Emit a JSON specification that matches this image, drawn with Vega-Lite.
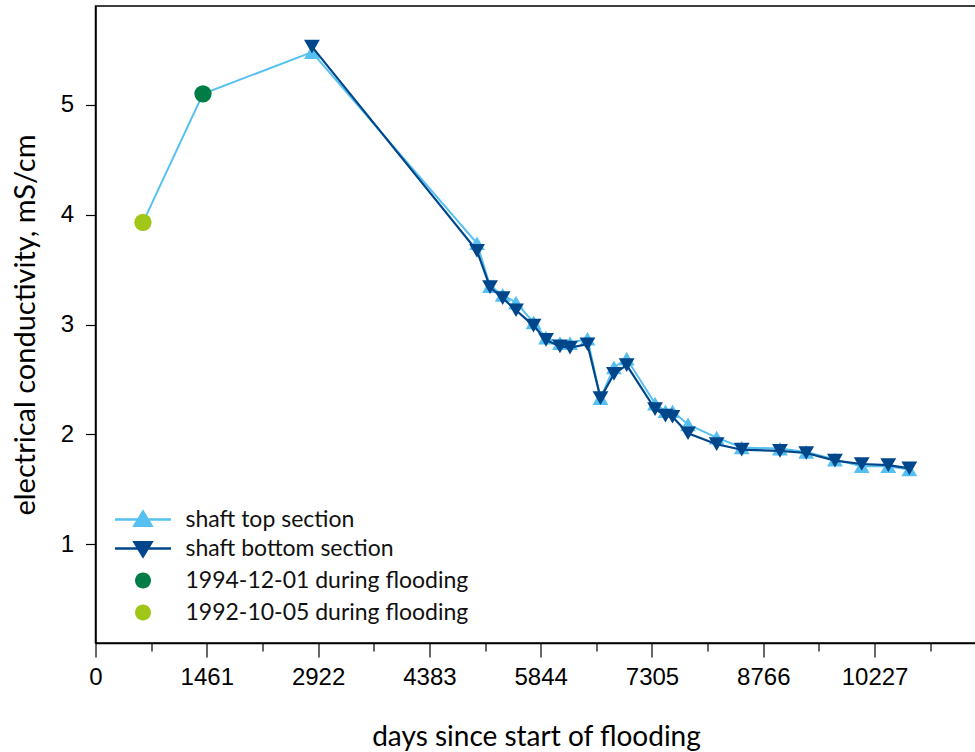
{
  "$schema": "https://vega.github.io/schema/vega-lite/v6.json",
  "width": 881,
  "height": 637,
  "autosize": {"type": "none"},
  "padding": {"left": 95.5, "top": 6, "right": 0, "bottom": 109},
  "background": "white",
  "config": {
    "view": {"stroke": "#000", "strokeWidth": 1.5},
    "axis": {"labelFont": "Liberation Sans", "titleFont": "Lato", "titleFontWeight": "normal", "labelColor": "#000", "titleColor": "#000", "domainColor": "#000", "tickColor": "#000", "domainWidth": 1.5, "tickWidth": 1.2, "grid": false},
    "legend": {"labelFont": "Lato", "labelColor": "#111"}
  },
  "data": {"values": [
    {"day": 623, "ec": 3.93, "series": "1992-10-05 during flooding"},
    {"day": 1411, "ec": 5.10, "series": "1994-12-01 during flooding"},
    {"day": 2841, "ec": 5.48, "series": "shaft top section"},
    {"day": 5008, "ec": 3.74, "series": "shaft top section"},
    {"day": 5179, "ec": 3.35, "series": "shaft top section"},
    {"day": 5345, "ec": 3.27, "series": "shaft top section"},
    {"day": 5520, "ec": 3.20, "series": "shaft top section"},
    {"day": 5750, "ec": 3.02, "series": "shaft top section"},
    {"day": 5914, "ec": 2.88, "series": "shaft top section"},
    {"day": 6097, "ec": 2.83, "series": "shaft top section"},
    {"day": 6229, "ec": 2.83, "series": "shaft top section"},
    {"day": 6458, "ec": 2.87, "series": "shaft top section"},
    {"day": 6629, "ec": 2.33, "series": "shaft top section"},
    {"day": 6806, "ec": 2.61, "series": "shaft top section"},
    {"day": 6973, "ec": 2.69, "series": "shaft top section"},
    {"day": 7345, "ec": 2.28, "series": "shaft top section"},
    {"day": 7482, "ec": 2.21, "series": "shaft top section"},
    {"day": 7574, "ec": 2.21, "series": "shaft top section"},
    {"day": 7778, "ec": 2.09, "series": "shaft top section"},
    {"day": 8154, "ec": 1.97, "series": "shaft top section"},
    {"day": 8483, "ec": 1.88, "series": "shaft top section"},
    {"day": 8985, "ec": 1.87, "series": "shaft top section"},
    {"day": 9330, "ec": 1.84, "series": "shaft top section"},
    {"day": 9707, "ec": 1.77, "series": "shaft top section"},
    {"day": 10058, "ec": 1.71, "series": "shaft top section"},
    {"day": 10407, "ec": 1.71, "series": "shaft top section"},
    {"day": 10683, "ec": 1.68, "series": "shaft top section"},
    {"day": 2841, "ec": 5.53, "series": "shaft bottom section"},
    {"day": 5008, "ec": 3.67, "series": "shaft bottom section"},
    {"day": 5179, "ec": 3.34, "series": "shaft bottom section"},
    {"day": 5345, "ec": 3.24, "series": "shaft bottom section"},
    {"day": 5520, "ec": 3.13, "series": "shaft bottom section"},
    {"day": 5750, "ec": 2.99, "series": "shaft bottom section"},
    {"day": 5914, "ec": 2.86, "series": "shaft bottom section"},
    {"day": 6097, "ec": 2.80, "series": "shaft bottom section"},
    {"day": 6229, "ec": 2.79, "series": "shaft bottom section"},
    {"day": 6458, "ec": 2.82, "series": "shaft bottom section"},
    {"day": 6629, "ec": 2.33, "series": "shaft bottom section"},
    {"day": 6806, "ec": 2.55, "series": "shaft bottom section"},
    {"day": 6973, "ec": 2.63, "series": "shaft bottom section"},
    {"day": 7345, "ec": 2.23, "series": "shaft bottom section"},
    {"day": 7482, "ec": 2.17, "series": "shaft bottom section"},
    {"day": 7574, "ec": 2.16, "series": "shaft bottom section"},
    {"day": 7778, "ec": 2.01, "series": "shaft bottom section"},
    {"day": 8154, "ec": 1.91, "series": "shaft bottom section"},
    {"day": 8483, "ec": 1.86, "series": "shaft bottom section"},
    {"day": 8985, "ec": 1.85, "series": "shaft bottom section"},
    {"day": 9330, "ec": 1.83, "series": "shaft bottom section"},
    {"day": 9707, "ec": 1.76, "series": "shaft bottom section"},
    {"day": 10058, "ec": 1.73, "series": "shaft bottom section"},
    {"day": 10407, "ec": 1.72, "series": "shaft bottom section"},
    {"day": 10683, "ec": 1.69, "series": "shaft bottom section"}
  ]},
  "layer": [
    {
      "transform": [{"filter": "datum.series != 'shaft bottom section'"}],
      "mark": {"type": "line", "color": "#56C1F0", "strokeWidth": 2},
      "encoding": {
        "x": {"field": "day", "type": "quantitative", "scale": {"domain": [0, 11565], "nice": false, "zero": false},
          "axis": {"values": [0, 365.25, 730.5, 1095.75, 1461, 1826.25, 2191.5, 2556.75, 2922, 3287.25, 3652.5, 4017.75, 4383, 4748.25, 5113.5, 5478.75, 5844, 6209.25, 6574.5, 6939.75, 7305, 7670.25, 8035.5, 8400.75, 8766, 9131.25, 9496.5, 9861.75, 10227, 10592.25, 10957.5, 11322.75],
            "labelExpr": "datum.value % 1461 === 0 ? format(datum.value, 'd') : ''",
            "tickSize": {"condition": {"test": "datum.value % 1461 === 0", "value": 14}, "value": 8},
            "labelOverlap": false, "labelFontSize": 24, "labelPadding": 8, "title": "days since start of flooding", "titleFontSize": 28, "titlePadding": 34, "labelFlush": false}},
        "y": {"field": "ec", "type": "quantitative", "scale": {"domain": [0.1, 5.9], "nice": false, "zero": false},
          "axis": {"values": [1, 2, 3, 4, 5], "format": "d", "tickSize": 10, "labelFontSize": 24, "labelPadding": 12, "title": "electrical conductivity, mS/cm", "titleFontSize": 29, "titlePadding": 20}}
      }
    },
    {
      "transform": [{"filter": "datum.series == 'shaft top section'"}],
      "mark": {"type": "point", "shape": "triangle-up", "filled": true, "opacity": 1, "size": 250},
      "encoding": {
        "x": {"field": "day", "type": "quantitative"},
        "y": {"field": "ec", "type": "quantitative"},
        "color": {"field": "series", "type": "nominal",
          "scale": {"domain": ["shaft top section", "shaft bottom section", "1994-12-01 during flooding", "1992-10-05 during flooding"], "range": ["#56C1F0", "#00468B", "#007D47", "#A2C617"]},
          "legend": {"title": null, "orient": "none", "legendX": 36, "legendY": 502, "labelFontSize": 23, "labelLimit": 500, "symbolSize": 400, "symbolStrokeWidth": 2.5, "symbolOpacity": 1, "labelOffset": 31, "rowPadding": 5, "padding": 0,
            "symbolType": {"expr": "datum.value === 'shaft top section' ? 'M-2.8,0H2.8M-0.85,0.62L0,-0.78L0.85,0.62Z' : datum.value === 'shaft bottom section' ? 'M-2.8,0H2.8M-0.85,-0.62L0,0.78L0.85,-0.62Z' : 'M-0.8,0A0.8,0.8 0 1,0 0.8,0A0.8,0.8 0 1,0 -0.8,0Z'"},
            "symbolStrokeColor": {"expr": "datum.value === 'shaft top section' ? '#56C1F0' : datum.value === 'shaft bottom section' ? '#00468B' : 'transparent'"}
          }
        }
      }
    },
    {
      "transform": [{"filter": "datum.series == 'shaft bottom section'"}],
      "mark": {"type": "line", "color": "#00468B", "strokeWidth": 2.2},
      "encoding": {
        "x": {"field": "day", "type": "quantitative"},
        "y": {"field": "ec", "type": "quantitative"}
      }
    },
    {
      "transform": [{"filter": "datum.series == 'shaft bottom section'"}],
      "mark": {"type": "point", "shape": "triangle-down", "filled": true, "opacity": 1, "size": 250},
      "encoding": {
        "x": {"field": "day", "type": "quantitative"},
        "y": {"field": "ec", "type": "quantitative"},
        "color": {"field": "series", "type": "nominal"}
      }
    },
    {
      "transform": [{"filter": "datum.series != 'shaft bottom section' && datum.series != 'shaft top section'"}],
      "mark": {"type": "point", "shape": "circle", "filled": true, "opacity": 1, "size": 300},
      "encoding": {
        "x": {"field": "day", "type": "quantitative"},
        "y": {"field": "ec", "type": "quantitative"},
        "color": {"field": "series", "type": "nominal"}
      }
    }
  ]
}
